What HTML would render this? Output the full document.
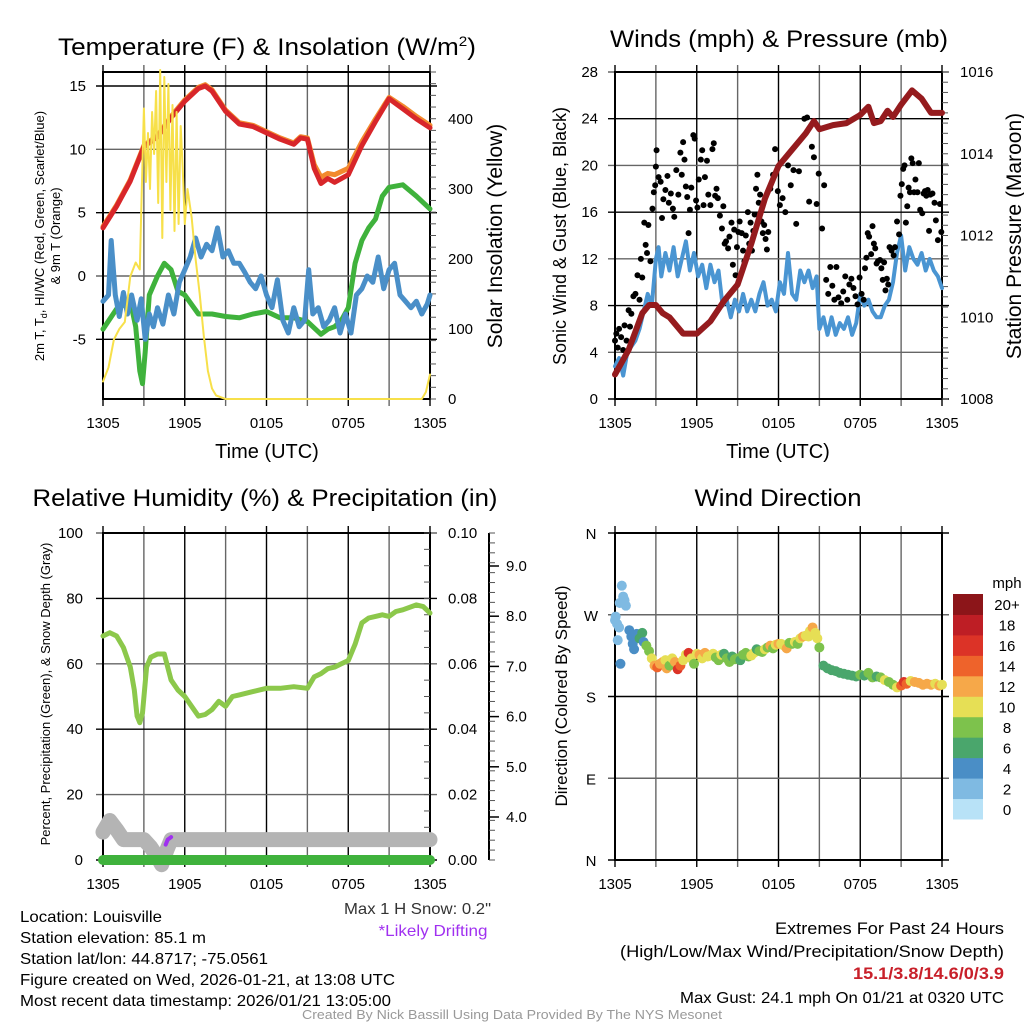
<!DOCTYPE html>
<html><head><meta charset="utf-8"><style>
html,body{margin:0;padding:0;background:#fff}
svg{display:block}
text{font-family:"Liberation Sans",sans-serif;fill:#000}
</style></head><body>
<svg id="chart" width="1024" height="1024" viewBox="0 0 1024 1024" xmlns="http://www.w3.org/2000/svg">
<text x="267" y="55" font-size="24" text-anchor="middle" textLength="418" lengthAdjust="spacingAndGlyphs">Temperature (F) &amp; Insolation (W/m<tspan dy="-9" font-size="14">2</tspan><tspan dy="9">)</tspan></text>
<text x="779" y="47" font-size="24" text-anchor="middle" textLength="338" lengthAdjust="spacingAndGlyphs">Winds (mph) &amp; Pressure (mb)</text>
<text x="265" y="506" font-size="24" text-anchor="middle" textLength="465" lengthAdjust="spacingAndGlyphs">Relative Humidity (%) &amp; Precipitation (in)</text>
<text x="778" y="506" font-size="24" text-anchor="middle" textLength="167" lengthAdjust="spacingAndGlyphs">Wind Direction</text>

<text x="267" y="458" font-size="20" text-anchor="middle">Time (UTC)</text>
<text x="778" y="458" font-size="20" text-anchor="middle">Time (UTC)</text>
<text transform="translate(44,236) rotate(-90)" font-size="13" text-anchor="middle">2m T, T<tspan dy="3" font-size="9">d</tspan><tspan dy="-3">, HI/WC (Red, Green, Scarlet/Blue)</tspan></text>
<text transform="translate(60,236) rotate(-90)" font-size="13" text-anchor="middle">&amp; 9m T (Orange)</text>
<text transform="translate(502,236) rotate(-90)" font-size="21" text-anchor="middle">Solar Insolation (Yellow)</text>
<text transform="translate(566,236) rotate(-90)" font-size="18" text-anchor="middle">Sonic Wind &amp; Gust (Blue, Black)</text>
<text transform="translate(1021,236) rotate(-90)" font-size="21" text-anchor="middle">Station Pressure (Maroon)</text>
<text transform="translate(50,694) rotate(-90)" font-size="13" text-anchor="middle">Percent, Precipitation (Green), &amp; Snow Depth (Gray)</text>
<text transform="translate(567,696) rotate(-90)" font-size="17" text-anchor="middle">Direction (Colored By Speed)</text>

<text x="491" y="914" font-size="16" text-anchor="end" textLength="147" lengthAdjust="spacingAndGlyphs" style="fill:#333">Max 1 H Snow: 0.2"</text>
<text x="433" y="936" font-size="16" text-anchor="middle" textLength="109" lengthAdjust="spacingAndGlyphs" style="fill:#a030f0">*Likely Drifting</text>
<g font-size="16">
<text x="20" y="922" textLength="142" lengthAdjust="spacingAndGlyphs">Location: Louisville</text>
<text x="20" y="943" textLength="186" lengthAdjust="spacingAndGlyphs">Station elevation: 85.1 m</text>
<text x="20" y="964" textLength="248" lengthAdjust="spacingAndGlyphs">Station lat/lon: 44.8717; -75.0561</text>
<text x="20" y="985" textLength="375" lengthAdjust="spacingAndGlyphs">Figure created on Wed, 2026-01-21, at 13:08 UTC</text>
<text x="20" y="1006" textLength="371" lengthAdjust="spacingAndGlyphs">Most recent data timestamp: 2026/01/21 13:05:00</text>
</g>
<g font-size="17" text-anchor="end">
<text x="1004" y="934" textLength="229" lengthAdjust="spacingAndGlyphs">Extremes For Past 24 Hours</text>
<text x="1004" y="957" textLength="384" lengthAdjust="spacingAndGlyphs">(High/Low/Max Wind/Precipitation/Snow Depth)</text>
<text x="1004" y="979" font-weight="bold" textLength="151" lengthAdjust="spacingAndGlyphs" style="fill:#c8202a">15.1/3.8/14.6/0/3.9</text>
<text x="1004" y="1003" font-size="16" textLength="324" lengthAdjust="spacingAndGlyphs">Max Gust: 24.1 mph On 01/21 at 0320 UTC</text>
</g>
<text x="512" y="1019" font-size="13" text-anchor="middle" textLength="420" lengthAdjust="spacingAndGlyphs" style="fill:#999">Created By Nick Bassill Using Data Provided By The NYS Mesonet</text>
</svg>
<script>
// ---------- data ----------
const xTickLabels = ["1305","1905","0105","0705","1305"];
const tempTicks = [15,10,5,0,-5];
const insoTicks = [0,100,200,300,400];
const windTicks = [0,4,8,12,16,20,24,28];
const presTicks = [1008,1010,1012,1014,1016];
const rhTicks = [0,20,40,60,80,100];
const precipTicks = ["0.00","0.02","0.04","0.06","0.08","0.10"];
const snowTicks = [4,5,6,7,8,9];
const dirLabels = ["N","E","S","W","N"];
const dirTicks = [0,90,180,270,360];

const tempHours = [0,1,2,3,4,5,6,7,7.5,8,9,10,11,12,13,14,14.5,15,15.5,16,16.5,17,18,19,20,21,22,23,24];
const tempVals  = [3.8,5.5,7.5,10.2,11,12.5,13.8,14.8,15,14.6,13,12,11.8,11.3,10.8,10.4,10.9,10.8,8.5,7.3,7.7,7.4,8,10.3,12.2,14,13.2,12.4,11.7];
const t9Vals    = [3.9,5.6,7.6,10.3,11.1,12.6,13.9,14.9,15.1,14.7,13.1,12.1,11.9,11.4,10.9,10.5,11.0,10.9,8.8,7.8,8.1,8.0,8.5,10.6,12.4,14.1,13.4,12.6,11.9];
const dewHours = [0,1,2,2.4,2.7,2.9,3.1,3.4,4,4.5,5,5.5,6,7,8,9,10,11,12,13,14,15,16,16.5,17,17.5,18,18.5,19,19.5,20,20.5,21,22,23,24];
const dewVals  = [-4.2,-2.6,-2,-4,-7.5,-8.5,-6,-1.5,0,1,0.5,-1.2,-1.5,-3,-3,-3.2,-3.3,-3,-2.8,-3.3,-3.3,-3.6,-4.6,-4.2,-4,-3.5,-2.5,1,2.8,3.8,4.5,6.3,7,7.2,6.3,5.3];
const wcHours = [0,0.4,0.6,0.9,1.2,1.5,1.8,2.1,2.5,2.8,3.1,3.4,3.7,4,4.4,4.8,5.2,5.6,6,6.4,6.8,7.2,7.6,8,8.4,8.8,9.2,9.6,10,10.4,10.8,11.2,11.6,12,12.4,12.8,13.2,13.6,14,14.4,14.8,15.1,15.4,15.8,16.2,16.6,17,17.4,17.8,18.2,18.6,19,19.4,19.8,20.2,20.6,21,21.4,21.8,22.2,22.6,23,23.4,23.8,24];
const wcVals  = [-2,-1.5,2.8,-1.5,-3.2,-1.3,-3,-1.5,-3.5,-1.8,-5,-3,-4,-2.5,-3.8,-1.5,-3,-0.5,0.5,1.5,3,1.5,2.5,2,3.8,1.5,2,1,1,0.3,-0.5,-1,0,-1.5,-2.5,-0.3,-3.5,-4.5,-2.5,-4,-3.5,0.5,-3,-2.5,-4,-3.5,-2.5,-4.5,-3,-4.5,-1.5,-1,0,-0.5,1.5,-1,0.5,1,-1.5,-2,-2.5,-2,-3,-2.2,-1.5];
const insoHours = [0,0.4,0.8,1.2,1.6,2,2.4,2.7,2.85,3,3.15,3.3,3.45,3.6,3.75,3.9,4.05,4.2,4.35,4.5,4.65,4.8,4.95,5.1,5.25,5.4,5.55,5.7,5.85,6,6.2,6.5,6.8,7.1,7.4,7.7,8,8.3,9,12,16,20,23.4,23.7,24];
const insoVals  = [25,45,85,100,110,175,195,185,300,415,310,380,300,410,350,440,280,470,230,460,310,450,270,420,240,410,250,390,330,250,300,260,200,150,90,40,15,5,0,0,0,0,0,10,35];

const presHours = [0,1,2,2.5,3,3.5,4,5,6,7,8,9,10,11,12,13,14,14.6,15,16,17,18,18.6,19,19.5,20,20.4,21,21.8,22.5,23.2,24];
const presVals  = [1008.6,1009.2,1010.1,1010.3,1010.3,1010.1,1010.0,1009.6,1009.6,1009.9,1010.4,1010.8,1011.8,1012.9,1013.7,1014.1,1014.5,1014.8,1014.6,1014.7,1014.75,1014.95,1015.15,1014.75,1014.8,1015.05,1014.9,1015.2,1015.55,1015.35,1015.0,1015.0];
const windHours = [0,0.3,0.6,0.9,1.2,1.5,1.8,2.1,2.4,2.7,3,3.2,3.4,3.7,4,4.3,4.6,4.9,5.2,5.5,5.8,6.1,6.4,6.7,7,7.3,7.6,7.9,8.2,8.5,8.8,9.1,9.4,9.7,10,10.3,10.6,10.9,11.2,11.5,11.8,12.1,12.4,12.7,13,13.3,13.6,13.9,14.2,14.5,14.8,15,15.3,15.6,15.9,16.2,16.5,16.8,17.1,17.4,17.7,18,18.3,18.6,18.9,19.2,19.5,19.8,20.1,20.4,20.7,21,21.3,21.6,21.9,22.2,22.5,22.8,23.1,23.4,23.7,24];
const windVals  = [2.8,3.5,2,4,4.5,5,6,7.5,9,8,12,13,10.5,12.5,11,13,10.5,12,13.5,11,12.5,10.5,11.5,9.5,11.5,10,11,8,8.5,7,8.5,7.5,9,7.5,8.5,7.5,9,10,8,8.5,7.5,10,9,12.5,9,8.5,11,10,11,9.5,10.5,6,7,5.5,7,5.5,6.5,6,7,5.5,6.5,9,8,8.5,7.5,7,7,8,8.5,10,12.5,14,11,13,12,11.5,12.5,11,12,11,10.5,9.5];
const gustHours = [0,0.1,0.2,0.3,0.45,0.6,0.7,0.85,1,1.1,1.2,1.35,1.5,1.65,1.8,1.9,2,2.15,2.25,2.35,2.45,2.6,2.75,2.85,2.95,3,3.05,3.2,3.35,3.45,3.55,3.7,3.85,3.95,4.1,4.25,4.35,4.5,4.65,4.8,4.9,5,5.1,5.2,5.3,5.4,5.5,5.6,5.75,5.85,5.95,6.05,6.15,6.3,6.4,6.5,6.6,6.75,6.85,7,7.15,7.25,7.35,7.45,7.55,7.7,7.85,7.95,8.05,8.15,8.3,8.4,8.55,8.65,8.75,8.85,8.95,9.05,9.15,9.3,9.4,9.5,9.6,9.75,9.85,9.95,10.05,10.15,10.25,10.35,10.45,10.55,10.65,10.75,10.85,10.95,11.05,11.15,11.25,11.4,11.6,11.75,11.95,12.1,12.3,12.5,12.7,12.9,13.1,13.3,13.5,13.9,14.1,14.25,14.45,14.6,14.8,14.95,15.2,15.35,15.5,15.65,15.8,15.95,16.1,16.25,16.4,16.6,16.75,16.9,17.05,17.2,17.35,17.5,17.65,17.8,17.95,18.1,18.25,18.35,18.45,18.55,18.65,18.8,18.9,19,19.1,19.2,19.3,19.45,19.55,19.65,19.75,19.85,19.95,20.05,20.15,20.3,20.45,20.55,20.7,20.85,20.95,21.05,21.15,21.25,21.35,21.45,21.55,21.65,21.75,21.85,21.95,22.05,22.2,22.3,22.4,22.55,22.65,22.75,22.85,22.95,23.05,23.15,23.3,23.45,23.55,23.7,23.85,23.95];
const gustVals  = [5,5.6,4.4,6,5.3,4.2,6.3,5,7.6,6.2,7.3,8.8,9,10.6,8.5,12,10.4,15.1,13.2,12.5,14.9,11.8,16.3,17.7,18.3,19.9,21.3,19,18.6,15.5,17.1,17.9,19.1,16.8,17.6,16.3,15.6,19.6,17.5,21.1,19.2,22,20.5,18.2,17.3,14.2,16.2,18.1,22.6,22.3,17,16.4,18.8,20.5,21.3,16.6,19,20.4,17.5,16.6,21.4,21.9,17.4,18,17.2,15.7,14.6,16.5,13.3,13.5,12.9,13.9,15.1,11.5,14.5,10.6,13,14.3,15.2,14.2,12.7,11.8,14,16,13.3,15.1,12.7,14.4,15.8,18,19.2,16.8,17.5,15.2,14.2,14.9,13.7,12.8,14.3,18,19.2,21.4,17.8,16.6,17.2,16,20,18.3,19.6,15,19.5,24,24.1,16.9,21.6,20.7,16.7,19.3,14.6,18.3,10.2,9,11.3,9.7,8.5,11.3,8.7,8.2,9.2,10.5,8.5,9.8,10.3,9.5,8.8,8.1,10.4,9,8.5,11.2,12.1,14.2,13.9,12.4,14.8,13.3,12.9,11.6,11.8,11.9,11.2,10.2,11.7,9.3,10.3,9.8,13,12.7,12.3,13,15.2,14.1,17.4,18.4,19.7,20,15.1,16.5,18.1,17.7,20.6,20.2,17.7,18.8,17.7,20.2,16.2,15.9,17.6,17.8,17.4,17.9,14.4,17.5,17.6,16.8,15.3,13.6,16.7,14.3,13,12.8];

const rhHours = [0,0.5,1,1.5,2,2.3,2.5,2.7,2.9,3.2,3.5,4,4.5,5,5.5,6,6.5,7,7.5,8,8.5,9,9.5,10,11,12,13,14,15,15.5,16,16.5,17,17.5,18,18.5,19,19.5,20,20.5,21,21.5,22,23,23.5,24];
const rhVals  = [68.5,69.5,68.5,65,59,52,44,42,45,59,62,63,63,55,52,50,47,44,44.5,46,48.5,47,50,50.5,51.5,52.5,52.5,53,52.5,56,57,58.5,59,60,61,66,72.5,74,74.5,75,74.5,76,76.5,78,77.5,75.5];
const snowHours = [0,0.5,1,1.5,3,3.5,4,4.3,4.7,5,24];
const snowVals  = [3.7,3.93,3.75,3.55,3.55,3.4,3.2,3.05,3.35,3.55,3.55];
const driftHours = [4.6,4.75,5];
const driftVals = [3.45,3.55,3.6];
const precipHours = [0,24];
const precipVals = [0,0];

const dirHours = [0,0.05,0.15,0.2,0.3,0.35,0.4,0.5,0.6,0.7,0.8,1.05,1.2,1.3,1.4,1.6,1.8,2,2.1,2.3,2.5,2.7,2.9,3.1,3.3,3.5,3.7,3.8,4,4.2,4.4,4.6,4.8,5,5.2,5.4,5.6,5.8,6,6.2,6.4,6.6,6.8,7,7.2,7.4,7.6,7.8,8,8.2,8.4,8.6,8.8,9,9.2,9.4,9.6,9.8,10,10.2,10.4,10.6,10.8,11,11.2,11.4,11.6,11.8,12,12.2,12.4,12.6,12.8,13,13.2,13.4,13.6,13.8,14,14.2,14.3,14.5,14.7,14.85,15,15.3,15.6,15.9,16.2,16.5,16.8,17.1,17.4,17.7,18,18.3,18.6,18.9,19.2,19.5,19.8,20.1,20.4,20.7,21,21.2,21.4,21.7,22,22.3,22.6,22.9,23.2,23.5,23.8,24];
const dirVals  = [264,268,260,242,256,283,216,302,290,286,280,253,246,238,232,249,244,250,240,236,230,222,214,212,216,218,220,211,214,222,218,210,214,220,226,228,222,216,227,226,222,228,224,225,227,223,220,226,227,222,218,224,221,222,220,226,228,224,225,228,232,230,229,232,234,236,233,237,238,238,236,233,239,238,240,238,244,246,247,246,252,256,250,244,234,214,211,209,208,206,205,204,203,202,204,203,206,201,202,201,198,196,193,190,192,196,194,197,196,195,193,194,193,194,192,193,192,191];
const dirSpeeds = [3,2,2,2,2,2,4,2,2,2,2,4,4,4,4,5,6,7,5,8,8,10,12,14,12,12,10,12,9,10,12,16,14,10,11,16,10,9,10,12,11,12,10,11,10,9,9,10,7,8,9,7,8,9,7,8,8,9,10,11,7,8,9,10,8,12,9,10,12,11,10,12,8,9,10,9,11,12,10,11,11,12,11,10,8,6,7,6,6,7,7,6,7,6,8,7,9,8,7,9,10,9,8,10,14,16,14,11,12,13,12,13,12,11,12,10,9];

const speedBins = ["0","2","4","6","8","10","12","14","16","18","20+"];
const binColors = ["#b8e2f7","#7fbae2","#4a8ec6","#4aa66c","#7dc24c","#e6df55","#f6a849","#ee632b","#dc3327","#be1e25","#8c1519"];

// ---------- helpers ----------
const svg = document.getElementById('chart');
const NS = 'http://www.w3.org/2000/svg';
function el(tag, attrs, parent){
  const e = document.createElementNS(NS, tag);
  for (const k in attrs) e.setAttribute(k, attrs[k]);
  (parent||svg).appendChild(e);
  return e;
}
function lin(d0,d1,r0,r1){ return v => r0 + (v-d0)/(d1-d0)*(r1-r0); }

function frame(name, x0, x1, y0, y1, hGridYs){
  const g = el('g', {});
  
  
  for (let h=0; h<=24; h+=3){
    const x = x0 + h/24*(x1-x0);
    const ln = el('line', {x1:x, x2:x, y1:y0-7, y2:y1+7, stroke:(h%6===0)?'#000':'#666', 'stroke-width':1.4}, g);
    
    
  }
  hGridYs.forEach((y,i) => {
    const ln = el('line', {x1:x0-7, x2:x1+7, y1:y, y2:y, stroke:(i%2===0)?'#000':'#666', 'stroke-width':1.4}, g);
    
    
  });
  const b = el('rect', {x:x0, y:y0, width:x1-x0, height:y1-y0, fill:'none', stroke:'#000', 'stroke-width':2});
  
  
  xTickLabels.forEach((t,i) => {
    const tx = el('text', {x: x0 + i*6/24*(x1-x0), y: y1+29, 'font-size':15, 'text-anchor':'middle'});
    tx.textContent = t;
    
    
  });
}
function yLabels(vals, fmt, ys, x, anchor, size){
  vals.forEach(v => {
    const t = el('text', {x:x, y:ys(v)+5, 'font-size':size||15, 'text-anchor':anchor});
    t.textContent = fmt(v);
    
    
  });
}
function minorTicks(x, y0, y1, n, dir){
  for (let i=0;i<=n;i++){
    const y = y0 + i*(y1-y0)/n;
    const t = el('line', {x1:x, x2:x+dir*6, y1:y, y2:y, stroke:'#555', 'stroke-width':1});
    
    
  }
}
function line(hours, vals, xs, ys, color, w, name){
  const d = hours.map((h,i) => (i?'L':'M') + xs(h).toFixed(1) + ' ' + ys(vals[i]).toFixed(1)).join(' ');
  const p = el('path', {d:d, fill:'none', stroke:color, 'stroke-width':w, 'stroke-linejoin':'round', 'stroke-linecap':'round'});
  
  
  return p;
}

// ---------- panel 1: temperature ----------
{
  const xs = lin(0,24,103,430), ys = lin(0,15,276,86), yi = lin(0,400,399,119);
  frame('temperature', 103, 430, 72, 399, tempTicks.map(ys));
  minorTicks(430, 72, 399, 28, 1);
  yLabels(tempTicks, v=>String(v), ys, 86, 'end');
  yLabels(insoTicks, v=>String(v), yi, 448, 'start');
  line(dewHours, dewVals, xs, ys, '#3fb23c', 5, 'dewpoint-line');
  line(wcHours, wcVals, xs, ys, '#4a8fc8', 5, 'windchill-line');
  line(tempHours, t9Vals, xs, ys, '#f28a2e', 5, 'temp-9m-line');
  line(tempHours, tempVals, xs, ys, '#d8262a', 5, 'temp-2m-line');
  line(insoHours, insoVals, xs, yi, '#f7e04a', 2, 'insolation-line');
}
// ---------- panel 2: winds ----------
{
  const xs = lin(0,24,615,942), ys = lin(0,28,399,72), yp = lin(1008,1016,399,72);
  frame('winds', 615, 942, 72, 399, windTicks.map(ys));
  minorTicks(942, 72, 399, 32, 1);
  yLabels(windTicks, v=>String(v), ys, 598, 'end');
  yLabels(presTicks, v=>String(v), yp, 960, 'start');
  line(windHours, windVals, xs, ys, '#4a95d2', 4, 'sonic-wind-line');
  const g = el('g', {});
  
  
  gustHours.forEach((h,i) => {
    const c = el('circle', {cx:xs(h), cy:ys(gustVals[i]), r:3, fill:'#000'}, g);
    
    
  });
  line(presHours, presVals, xs, yp, '#951b1e', 6, 'pressure-line');
}
// ---------- panel 3: humidity ----------
{
  const xs = lin(0,24,103,430), ys = lin(0,100,860,533), ysn = lin(4,9,817,566);
  frame('humidity', 103, 430, 533, 860, rhTicks.map(ys));
  minorTicks(430, 533, 860, 20, -1);
  yLabels(rhTicks, v=>String(v), ys, 83, 'end');
  yLabels(precipTicks, v=>v, v=>ys(parseFloat(v)*1000), 448, 'start');
  const ax = el('line', {x1:489, x2:489, y1:533, y2:860, stroke:'#000', 'stroke-width':2});
  
  
  minorTicks(489, 533, 860, 33, 1);
  snowTicks.forEach(v => {
    const t = el('line', {x1:489, x2:499, y1:ysn(v), y2:ysn(v), stroke:'#000', 'stroke-width':1.5});
    
    
  });
  yLabels(snowTicks, v=>v.toFixed(1), ysn, 506, 'start');
  line(snowHours, snowVals, xs, ysn, '#b4b4b4', 15, 'snow-depth-line');
  line(driftHours, driftVals, xs, ysn, '#a030f0', 4, 'drifting-line');
  line(precipHours, precipVals, xs, ys, '#3fb23c', 10, 'precipitation-line');
  line(rhHours, rhVals, xs, ys, '#8cc84b', 5, 'humidity-line');
}
// ---------- panel 4: wind direction ----------
{
  const xs = lin(0,24,615,942), yd = lin(0,360,860,533);
  frame('direction', 615, 942, 533, 860, dirTicks.map(yd));
  dirTicks.forEach((v,i) => {
    const t = el('text', {x:591, y:yd(v)+6, 'font-size':15, 'text-anchor':'middle'});
    t.textContent = dirLabels[i];
    
    
  });
  const g = el('g', {});
  
  
  dirHours.forEach((h,i) => {
    const bi = Math.min(10, Math.floor(dirSpeeds[i]/2));
    const c = el('circle', {cx:xs(h), cy:yd(dirVals[i]), r:5, fill:binColors[bi]}, g);
    
    
  });
  const cb = el('g', {});
  
  
  const top = 594, bot = 819, bh = (bot-top)/speedBins.length;
  speedBins.forEach((lab,i) => {
    const y = bot - (i+1)*bh;
    const r = el('rect', {x:953, y:y, width:30, height:bh+0.5, fill:binColors[i]}, cb);
    
    
    const t = el('text', {x:1007, y:y+bh/2+6, 'font-size':15, 'text-anchor':'middle'}, cb);
    t.textContent = lab;
    
    
  });
  const m = el('text', {x:1007, y:588, 'font-size':15, 'text-anchor':'middle'}, cb);
  m.textContent = 'mph';
  
  
}
</script>
</body></html>
